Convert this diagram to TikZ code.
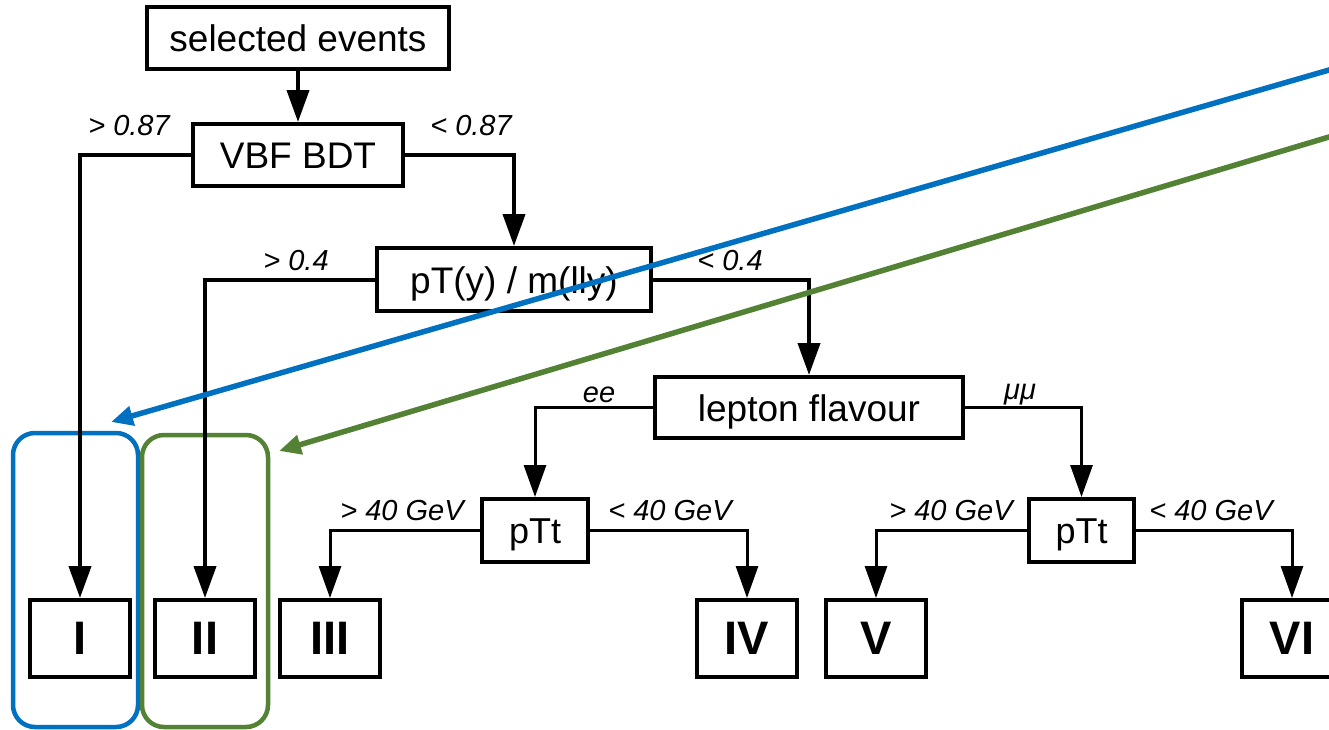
\documentclass[tikz,border=0pt]{standalone}
\usepackage{fontspec}
\setmainfont{Liberation Sans}
\usetikzlibrary{arrows.meta}
\definecolor{mblue}{RGB}{0,112,192}
\definecolor{mgreen}{RGB}{84,130,53}
\begin{document}
\begin{tikzpicture}[x=1pt,y=-1pt,
  box/.style={draw, line width=4pt, inner sep=0pt, font=\fontsize{37}{40}\selectfont, text height=27pt, text depth=0pt},
  smallbox/.style={box, font=\fontsize{36}{40}\selectfont, text height=26pt},
  cat/.style={draw, line width=4pt, minimum width=100pt, minimum height=77pt, inner sep=0pt, font=\fontsize{47}{50}\selectfont\bfseries},
  lab/.style={anchor=base, inner sep=0pt, font=\fontsize{29}{32}\selectfont\itshape},
  conn/.style={line width=4pt, -{Triangle[length=32pt,width=22pt]}},
  connb/.style={line width=3pt, -{Triangle[length=32pt,width=22pt]}},
  hl/.style={line width=5.5pt, -{Triangle[length=22pt,width=19pt]}},
  frame/.style={line width=4.5pt, rounded corners=22pt},
]
\useasboundingbox (0,0) rectangle (1329,729);
\clip (0,0) rectangle (1329,729);

% highlight frames
\draw[frame, mblue] (13,433) rectangle (138,727);
\draw[frame, mgreen] (142,435) rectangle (268,727);

% decision nodes
\node[box, minimum width=302pt, minimum height=62pt] (sel) at (298,38) {selected events};
\node[box, minimum width=210pt, minimum height=62pt] (vbf) at (298,155) {VBF BDT};
\node[box, minimum width=274pt, minimum height=63pt] (pt) at (514,279.5) {pT(y) / m(lly)};
\node[box, minimum width=308pt, minimum height=61pt] (lep) at (809,407.5) {lepton flavour};
\node[smallbox, minimum width=106pt, minimum height=63pt] (ptta) at (535,530.5) {pTt};
\node[smallbox, minimum width=105pt, minimum height=63pt] (pttb) at (1081.5,530.5) {pTt};

% categories
\node[cat] (c1) at (80,638.5) {I};
\node[cat] (c2) at (205,638.5) {II};
\node[cat] (c3) at (330,638.5) {III};
\node[cat] (c4) at (747,638.5) {IV};
\node[cat] (c5) at (876,638.5) {V};
\node[cat] (c6) at (1292,638.5) {VI};

% connectors
\draw[conn] (sel.south) -- (vbf.north);
\draw[conn] (vbf.west) -| (c1.north);
\draw[conn] (vbf.east) -| (pt.north);
\draw[conn] (pt.west) -| (c2.north);
\draw[conn] (pt.east) -| (lep.north);
\draw[connb] (lep.west) -| (ptta.north);
\draw[connb] (lep.east) -| (pttb.north);
\draw[connb] (ptta.west) -| (c3.north);
\draw[connb] (ptta.east) -| (c4.north);
\draw[connb] (pttb.west) -| (c5.north);
\draw[connb] (pttb.east) -| (c6.north);

% labels
\node[lab] (l1) at (129,135) {> 0.87};
\node[lab] (l2) at (471,135) {< 0.87};
\node[lab] (l3) at (296,270) {> 0.4};
\node[lab] (l4) at (730,270) {< 0.4};
\node[lab] (l5) at (599,402) {ee};
\node[lab] (l6) at (1020,399) {μμ};
\node[lab] (l7) at (402,520) {> 40 GeV};
\node[lab] (l8) at (670,520) {< 40 GeV};
\node[lab] (l9) at (951,520) {> 40 GeV};
\node[lab] (l10) at (1211,520) {< 40 GeV};

% highlight arrows
\coordinate (bs) at (1345,65.4);
\coordinate (bt) at (111,422);
\coordinate (gs) at (1345,132.2);
\coordinate (gt) at (279,451);
\draw[hl, mblue] (bs) -- (bt);
\draw[hl, mgreen] (gs) -- (gt);
\end{tikzpicture}
\end{document}
